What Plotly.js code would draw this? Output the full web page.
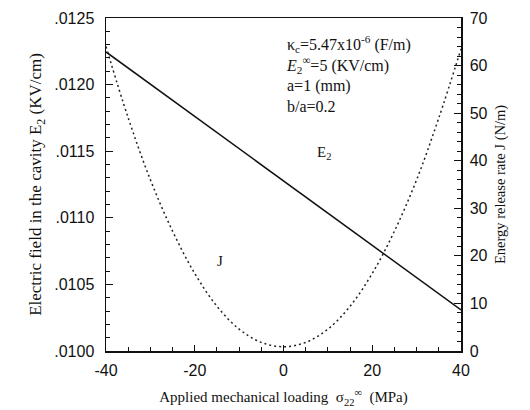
<!DOCTYPE html>
<html><head><meta charset="utf-8">
<script src="https://cdn.plot.ly/plotly-3.0.1.min.js"></script>
<style>body{margin:0;background:#fff}</style>
</head><body>
<div id="chart" style="width:530px;height:410px"></div>
<script>
var sigma = [-40,-35,-30,-25,-20,-15,-10,-5,0,5,10,15,20,25,30,35,40];
var E2 = [0.012245,0.012124,0.012003,0.011882,0.011761,0.011640,0.011519,0.011398,0.011277,0.011156,0.011035,0.010914,0.010793,0.010672,0.010551,0.010430,0.010309];
var J = [64.0,49.0,36.0,25.2,16.3,9.4,4.6,1.8,0.9,1.8,4.6,9.4,16.3,25.2,36.0,49.0,63.5];
var xTicks = [-40,-20,0,20,40];
var xTickText = ['-40','-20','0','20','40'];
var yTicks = [0.0100,0.0105,0.0110,0.0115,0.0120,0.0125];
var yTickText = ['.0100','.0105','.0110','.0115','.0120','.0125'];
var y2Ticks = [0,10,20,30,40,50,60,70];

var tickFont = {family:'Liberation Sans, Arial, sans-serif', size:16, color:'#111'};
var serif = 'Liberation Serif, Times New Roman, serif';

var traces = [
 {x:sigma, y:E2, mode:'lines', line:{color:'#111', width:1.5}, yaxis:'y', showlegend:false},
 {x:sigma, y:J, mode:'lines', line:{color:'#222', width:1.5, dash:'2px,3px', shape:'spline'}, yaxis:'y2', showlegend:false}
];
var layout = {
 width:530, height:410,
 margin:{l:106, r:69, t:18, b:59},
 paper_bgcolor:'#fff', plot_bgcolor:'#fff',
 xaxis:{range:[-40,40], tickvals:xTicks, ticktext:xTickText, ticks:'inside', ticklen:6, tickcolor:'#111',
   showline:true, linecolor:'#111', linewidth:1.5, mirror:true, showgrid:false, zeroline:false,
   tickfont:tickFont, ticklabelstandoff:4, minor:{dtick:5, ticks:'inside', ticklen:4, tickcolor:'#111'},
   title:{text:'Applied mechanical loading  σ<sub>22</sub><sup>∞</sup>  (MPa)', font:{family:serif, size:15, color:'#111'}, standoff:14}},
 yaxis:{range:[0.0100,0.0125], tickvals:yTicks, ticktext:yTickText, ticks:'inside', ticklen:7, tickcolor:'#111',
   showline:true, linecolor:'#111', linewidth:1.5, showgrid:false, zeroline:false,
   tickfont:tickFont, ticklabelstandoff:7, minor:{dtick:0.0001, ticks:'inside', ticklen:4, tickcolor:'#111'},
   title:{text:'Electric field in the cavity E<sub>2</sub> (KV/cm)', font:{family:serif, size:17, color:'#111'}, standoff:8}},
 yaxis2:{range:[0,70], tickvals:y2Ticks, overlaying:'y', side:'right', ticks:'inside', ticklen:7, tickcolor:'#111',
   showline:true, linecolor:'#111', linewidth:1.5, showgrid:false, zeroline:false,
   tickfont:tickFont, ticklabelstandoff:4, minor:{dtick:2, ticks:'inside', ticklen:4, tickcolor:'#111'},
   title:{text:'Energy release rate J (N/m)', font:{family:serif, size:14.5, color:'#111'}, standoff:8}},
 annotations:[
  {xref:'x', yref:'y', x:7, y:0.01149, text:'E<sub>2</sub>', showarrow:false, xanchor:'left', font:{family:serif, size:15, color:'#111'}},
  {xref:'x', yref:'y2', x:-15.5, y:19, text:'J', showarrow:false, xanchor:'left', font:{family:serif, size:15, color:'#111'}},
  {xref:'paper', yref:'paper', x:0.5, y:0.96, text:'κ<sub>c</sub>=5.47x10<sup>-6</sup> (F/m)<br><i>E</i><sub>2</sub><sup>∞</sup>=5 (KV/cm)<br>a=1 (mm)<br>b/a=0.2',
   showarrow:false, xanchor:'left', yanchor:'top', align:'left', font:{family:serif, size:16, color:'#111'}}
 ]
};
Plotly.newPlot('chart', traces, layout, {displayModeBar:false, staticPlot:true});
</script>
</body></html>
